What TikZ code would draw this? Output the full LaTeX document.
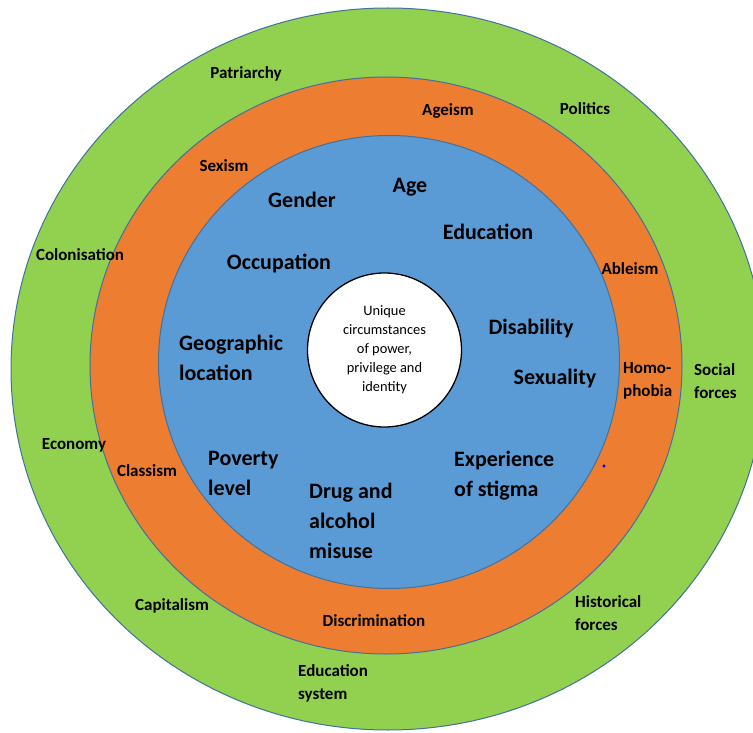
\documentclass[tikz,border=0pt]{standalone}
\usepackage{fontspec}
\setmainfont{Carlito}
\definecolor{ringgreen}{HTML}{92D050}
\definecolor{ringorange}{HTML}{ED7D31}
\definecolor{ringblue}{HTML}{5B9BD5}
\definecolor{ringedge}{HTML}{41719C}
\tikzset{
  ring/.style={draw=ringedge, line width=1pt},
  outer/.style={inner sep=0pt, align=left, font=\bfseries\fontsize{17}{23}\selectfont},
  inner/.style={inner sep=0pt, align=left, font=\bfseries\fontsize{22}{30}\selectfont},
  core/.style={circle, draw=black, line width=1.3pt, fill=white, minimum size=154pt,
    inner sep=0pt, align=center, font=\fontsize{14.4}{19}\selectfont}
}
\begin{document}
\begin{tikzpicture}[x=1pt,y=-1pt]
\useasboundingbox (0,0) rectangle (753,733);
\begin{scope}
\clip (0,0) rectangle (753,733);
\filldraw[ring,fill=ringgreen] (388,369) ellipse [x radius=377pt, y radius=361pt];
\filldraw[ring,fill=ringorange] (386,365.5) ellipse [x radius=296pt, y radius=288.5pt];
\filldraw[ring,fill=ringblue] (389,362) ellipse [x radius=230.5pt, y radius=226.5pt];
\end{scope}

% social forces (green)
\coordinate (s1) at (246,74);
\coordinate (s2) at (585,109);
\coordinate (s3) at (80,255);
\coordinate (s4) at (74,445);
\coordinate (s5) at (172,606);
\coordinate (s6) at (694,381);
\coordinate (s7) at (298,683.5);
\coordinate (s8) at (575,613.5);
% oppressions (orange)
\coordinate (o1) at (448,111);
\coordinate (o2) at (224,166);
\coordinate (o3) at (630,269);
\coordinate (o4) at (147,471);
\coordinate (o5) at (374,621);
\coordinate (o6) at (623,380.5);
% identity factors (blue)
\coordinate (f1) at (302,200);
\coordinate (f2) at (410,187);
\coordinate (f3) at (488,232);
\coordinate (f4) at (279,263);
\coordinate (f5) at (531,329);
\coordinate (f6) at (555,379);
\coordinate (f7) at (179,358);
\coordinate (f8) at (208,473);
\coordinate (f9) at (454,476);
\coordinate (f10) at (309,521);

\foreach \n/\t in {1/Patriarchy,2/Politics,3/Colonisation,4/Economy,5/Capitalism}
{
	\node[outer] (S\n) at (s\n) {\t};
}
\foreach \n/\t in {6/{Social\\forces},7/{Education\\system},8/{Historical\\forces}}
{
	\node[outer,anchor=west] (S\n) at (s\n) {\t};
}
\foreach \n/\t in {1/Ageism,2/Sexism,3/Ableism,4/Classism,5/Discrimination}
{
	\node[outer] (O\n) at (o\n) {\t};
}
\node[outer,anchor=west] (O6) at (o6) {Homo-\\phobia};
\foreach \n/\t in {1/Gender,2/Age,3/Education,4/Occupation,5/Disability,6/Sexuality}
{
	\node[inner] (F\n) at (f\n) {\t};
}
\foreach \n/\t in {7/{Geographic\\location},8/{Poverty\\level},9/{Experience\\of stigma},10/{Drug and\\alcohol\\misuse}}
{
	\node[inner,anchor=west] (F\n) at (f\n) {\t};
}

\node[core] (c) at (384.5,350) {Unique\\circumstances\\of power,\\privilege and\\identity};
\filldraw[blue] (604,466) circle (1.3pt);
\end{tikzpicture}
\end{document}
